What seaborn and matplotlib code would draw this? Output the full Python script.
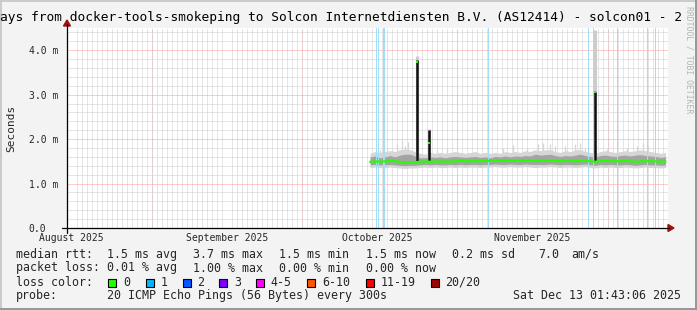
import numpy as np
import pandas as pd
import matplotlib
matplotlib.use("Agg")
import matplotlib.pyplot as plt
import matplotlib.dates as mdates
from matplotlib.ticker import MultipleLocator, FuncFormatter
from matplotlib.patches import Rectangle, Polygon
from matplotlib.lines import Line2D
import seaborn as sns

# ---------------- data ----------------
end_time = pd.Timestamp("2025-12-13 01:43:06")
start_time = end_time - pd.Timedelta(days=120)

sample_times = pd.date_range("2025-10-14 14:00", periods=60, freq="D")

median_ms = [1.49, 1.50, 1.49, 1.50, 1.51, 1.50, 1.49, 1.47, 1.48, 1.48,
             1.49, 1.50, 1.49, 1.50, 1.50, 1.49, 1.50, 1.50, 1.51, 1.50,
             1.50, 1.51, 1.50, 1.51, 1.51, 1.52, 1.51, 1.51, 1.52, 1.51,
             1.51, 1.52, 1.51, 1.52, 1.51, 1.51, 1.52, 1.51, 1.50, 1.51,
             1.51, 1.50, 1.51, 1.52, 1.50, 1.49, 1.51, 1.50, 1.51, 1.50,
             1.50, 1.51, 1.50, 1.49, 1.50, 1.51, 1.50, 1.50, 1.49, 1.50]

smoke_hi = [1.68, 1.72, 1.70, 1.72, 1.74, 1.72, 1.76, 1.78, 1.76, 1.72,
            1.68, 1.66, 1.70, 1.68, 1.70, 1.68, 1.70, 1.72, 1.70, 1.68,
            1.70, 1.72, 1.68, 1.70, 1.68, 1.70, 1.68, 1.72, 1.70, 1.72,
            1.70, 1.74, 1.72, 1.76, 1.74, 1.76, 1.76, 1.72, 1.70, 1.74,
            1.72, 1.76, 1.76, 1.72, 1.70, 1.68, 1.72, 1.74, 1.72, 1.70,
            1.72, 1.74, 1.72, 1.74, 1.76, 1.74, 1.72, 1.70, 1.68, 1.70]

smoke_q75 = [1.60, 1.62, 1.58, 1.60, 1.63, 1.60, 1.64, 1.66, 1.66, 1.62,
             1.58, 1.58, 1.60, 1.59, 1.60, 1.58, 1.60, 1.61, 1.60, 1.59,
             1.60, 1.61, 1.59, 1.60, 1.58, 1.61, 1.60, 1.62, 1.60, 1.62,
             1.61, 1.63, 1.62, 1.66, 1.64, 1.65, 1.66, 1.63, 1.61, 1.63,
             1.62, 1.64, 1.66, 1.63, 1.61, 1.60, 1.63, 1.64, 1.62, 1.61,
             1.63, 1.64, 1.62, 1.64, 1.65, 1.63, 1.62, 1.61, 1.59, 1.60]

smoke_q25 = [1.42, 1.43, 1.42, 1.42, 1.43, 1.42, 1.41, 1.40, 1.41, 1.41,
             1.42, 1.43, 1.42, 1.43, 1.42, 1.42, 1.43, 1.42, 1.43, 1.42,
             1.43, 1.43, 1.42, 1.43, 1.43, 1.44, 1.43, 1.43, 1.44, 1.43,
             1.43, 1.44, 1.43, 1.43, 1.43, 1.43, 1.44, 1.43, 1.42, 1.43,
             1.43, 1.42, 1.43, 1.44, 1.42, 1.41, 1.43, 1.42, 1.43, 1.42,
             1.42, 1.43, 1.42, 1.41, 1.42, 1.43, 1.42, 1.42, 1.41, 1.42]

smoke_lo = [1.36, 1.37, 1.36, 1.36, 1.37, 1.36, 1.35, 1.34, 1.35, 1.35,
            1.36, 1.37, 1.36, 1.37, 1.36, 1.36, 1.37, 1.36, 1.37, 1.36,
            1.37, 1.37, 1.36, 1.37, 1.37, 1.38, 1.37, 1.37, 1.38, 1.37,
            1.37, 1.38, 1.37, 1.36, 1.37, 1.37, 1.38, 1.37, 1.36, 1.37,
            1.37, 1.36, 1.37, 1.38, 1.36, 1.35, 1.37, 1.36, 1.37, 1.36,
            1.36, 1.37, 1.36, 1.35, 1.36, 1.37, 1.36, 1.36, 1.35, 1.36]

# thin outlier pings in the smoke
outlier_times = pd.to_datetime([
    "2025-10-16 14:00", "2025-10-17 22:00", "2025-10-18 22:00", "2025-10-19 21:40",
    "2025-10-20 21:40", "2025-10-21 13:30", "2025-10-22 04:00", "2025-10-27 21:30",
    "2025-10-29 21:30", "2025-11-10 03:10", "2025-11-12 03:10", "2025-11-14 20:40",
    "2025-11-17 04:20", "2025-11-18 04:20", "2025-11-19 12:30", "2025-11-20 12:20",
    "2025-11-22 12:20", "2025-11-24 12:20", "2025-11-25 12:20", "2025-11-26 12:10",
    "2025-11-30 20:10", "2025-12-04 20:00", "2025-12-06 20:00", "2025-12-08 03:40",
    "2025-12-09 03:40"])
outlier_top = [1.75, 1.80, 1.75, 1.90, 1.98, 1.85, 1.94, 1.75, 1.80, 1.80,
               1.87, 1.80, 1.90, 1.92, 1.88, 1.85, 1.85, 1.88, 1.92, 1.80,
               1.78, 1.80, 1.85, 1.92, 1.85]

# latency spikes
spike_times = pd.to_datetime(["2025-10-23 23:00", "2025-10-26 08:30", "2025-11-28 09:40"])
spike_base = [1.50, 1.50, 1.50]
spike_peak = [3.78, 2.20, 3.06]
spike_smoke_top = [3.86, 2.22, 4.45]
spike_green = [3.74, 1.91, 3.06]

# packet-loss events (1/20 loss)
loss_times = pd.to_datetime(["2025-10-15 22:00", "2025-10-16 07:30", "2025-10-17 09:00",
                             "2025-11-07 04:50", "2025-11-27 05:50", "2025-11-28 03:50",
                             "2025-12-02 22:50", "2025-12-09 00:30", "2025-12-10 16:00"])
loss_width_days = [0.2, 0.2, 0.4, 0.2, 0.2, 0.2, 0.2, 0.2, 0.2]

month_starts = pd.to_datetime(["2025-09-01", "2025-10-01", "2025-11-01", "2025-12-01"])
month_label_pos = pd.to_datetime(["2025-08-16", "2025-09-16", "2025-10-16", "2025-11-16"])
month_labels = ["August 2025", "September 2025", "October 2025", "November 2025"]

title_text = "ays from docker-tools-smokeping to Solcon Internetdiensten B.V. (AS12414) - solcon01 - 2"

rtt_stats = ["1.5 ms avg", "3.7 ms max", "1.5 ms min", "1.5 ms now", "0.2 ms sd", "7.0", "am/s"]
loss_stats = ["0.01 % avg", "1.00 % max", "0.00 % min", "0.00 % now"]
loss_color_labels = ["0", "1", "2", "3", "4-5", "6-10", "11-19", "20/20"]
loss_colors = ["#26ff00", "#00b8ff", "#0059ff", "#7e00ff", "#ff00ff", "#ff5500", "#ff0000", "#a00000"]
probe_text = "20 ICMP Echo Pings (56 Bytes) every 300s"
stamp_text = "Sat Dec 13 01:43:06 2025"

# ---------------- figure ----------------
W, H = 697, 310
sns.set_style("white")
plt.rcParams['font.family'] = ['DejaVu Sans Mono', 'DejaVu Sans']

fig = plt.figure(figsize=(W / 100, H / 100), dpi=100, facecolor="#f3f3f3")

def fx(x):
    return x / W

def fy(y):
    return 1 - y / H

ax = fig.add_axes([fx(67), fy(228), 601 / W, 200 / H])
ax.set_facecolor("white")
for s in ax.spines.values():
    s.set_visible(False)

ax.set_xlim(start_time, end_time)
ax.set_ylim(0, 4.5)

# grids
GRID = "#cccccc"
MGRID = "#ff9a9a"
dot = (0, (1, 1))
ax.xaxis.set_minor_locator(mdates.DayLocator())
ax.yaxis.set_major_locator(MultipleLocator(1.0))
ax.yaxis.set_minor_locator(MultipleLocator(0.2))
ax.grid(which="minor", axis="both", color=GRID, linestyle=dot, linewidth=0.72, zorder=0)
ax.grid(which="major", axis="y", color=MGRID, linestyle=dot, linewidth=0.72, zorder=0)
ax.grid(which="major", axis="x", visible=False)
ax.vlines(month_starts, 0, 4.5, colors=MGRID, linestyles=dot, linewidth=0.72, zorder=0.5)
ax.set_axisbelow(True)

# ticks
ax.set_xticks(month_label_pos)
ax.set_xticklabels(month_labels)
ax.tick_params(axis="x", which="both", length=0, pad=3.6, labelsize=7.0)
ax.yaxis.set_major_formatter(FuncFormatter(lambda v, p: "0.0" if v == 0 else f"{v:.1f} m"))
ax.tick_params(axis="y", which="major", length=3, width=0.72, color="#333333",
               direction="out", pad=24.5, labelsize=7.0)
ax.tick_params(axis="y", which="minor", length=0)
for lab in ax.get_yticklabels():
    lab.set_horizontalalignment("left")

# smoke
ax.vlines(outlier_times, 1.5, outlier_top, colors="#d6d6d6", linewidth=0.9, zorder=1.9)
ax.fill_between(sample_times, smoke_lo, smoke_hi, color="#d6d6d6", linewidth=0, zorder=2)
ax.fill_between(sample_times, smoke_q25, smoke_q75, color="#a4a4a4", linewidth=0, zorder=2.1)

# spikes
ax.vlines(spike_times, spike_base, spike_smoke_top, colors="#cccccc", linewidth=2.2, zorder=2.2)
ax.vlines(spike_times, spike_base, spike_peak, colors="#111111", linewidth=1.8, zorder=2.3)

# loss bars
ax.bar(loss_times, 4.5, width=loss_width_days, bottom=0, color="#a3dcf4", linewidth=0,
       zorder=2.5, align="center")

# median
sns.lineplot(x=sample_times, y=median_ms, ax=ax, color="#26ff00", linewidth=1.6,
             zorder=3, legend=False)
ax.scatter(spike_times, spike_green, marker="s", s=3, color="#26ff00", linewidths=0, zorder=3.2)
ax.set_xlabel("")
ax.set_ylabel("")

# axis lines & arrows
AX = "#000000"
ARROW = "#a01010"
fig.add_artist(Line2D([fx(62), fx(669)], [fy(228), fy(228)], color=AX, linewidth=0.9,
                      transform=fig.transFigure))
fig.add_artist(Line2D([fx(67), fx(67)], [fy(233), fy(24)], color=AX, linewidth=0.9,
                      transform=fig.transFigure))
fig.add_artist(Polygon([[fx(668), fy(224.5)], [fx(668), fy(231.5)], [fx(674), fy(228)]],
                       closed=True, color=ARROW, transform=fig.transFigure))
fig.add_artist(Polygon([[fx(63.5), fy(26)], [fx(70.5), fy(26)], [fx(67), fy(20)]],
                       closed=True, color=ARROW, transform=fig.transFigure))

# title & labels
fig.text(fx(0), fy(18), title_text, fontsize=9.25, ha="left", va="center", color="black")
fig.text(fx(11), fy(128), "Seconds", fontsize=8.0, rotation=90, ha="center", va="center")
fig.text(fx(689), fy(6), "RRDTOOL / TOBI OETIKER", fontsize=5.9, rotation=-90,
         ha="center", va="top", color="#b4b4b4")

# legend rows
LF = 8.4
rows_y = [254.3, 268.0, 282.0, 295.7]
rtt_x = [107, 193, 279, 365.7, 451.7, 538, 571.7]
fig.text(fx(16), fy(rows_y[0]), "median rtt:", fontsize=LF, va="center")
for x, t in zip(rtt_x, rtt_stats):
    fig.text(fx(x), fy(rows_y[0]), t, fontsize=LF, va="center")
fig.text(fx(16), fy(rows_y[1]), "packet loss:", fontsize=LF, va="center")
for x, t in zip(rtt_x[:4], loss_stats):
    fig.text(fx(x), fy(rows_y[1]), t, fontsize=LF, va="center")
fig.text(fx(16), fy(rows_y[2]), "loss color:", fontsize=LF, va="center")
box_x = [108.3, 145.7, 182.7, 219.3, 256.3, 307.3, 365.7, 431]
for x, c, t in zip(box_x, loss_colors, loss_color_labels):
    fig.add_artist(Rectangle((fx(x), fy(rows_y[2] + 4.5)), 8 / W, 8 / H, facecolor=c,
                             edgecolor="black", linewidth=0.8, transform=fig.transFigure))
    fig.text(fx(x + 14.5), fy(rows_y[2]), t, fontsize=LF, va="center")
fig.text(fx(16), fy(rows_y[3]), "probe:", fontsize=LF, va="center")
fig.text(fx(107), fy(rows_y[3]), probe_text, fontsize=LF, va="center")
fig.text(fx(513.3), fy(rows_y[3]), stamp_text, fontsize=LF, va="center")

# frame shading
fig.add_artist(Rectangle((0, fy(2)), 1, 2 / H, facecolor="#cbcbcb", linewidth=0,
                         transform=fig.transFigure))
fig.add_artist(Rectangle((0, 0), 2 / W, 1, facecolor="#cbcbcb", linewidth=0,
                         transform=fig.transFigure))
fig.add_artist(Rectangle((0, 0), 1, 2 / H, facecolor="#999999", linewidth=0,
                         transform=fig.transFigure))
fig.add_artist(Rectangle((fx(695), 0), 2 / W, 1, facecolor="#999999", linewidth=0,
                         transform=fig.transFigure))

fig.savefig("out.png", dpi=100, facecolor=fig.get_facecolor())
